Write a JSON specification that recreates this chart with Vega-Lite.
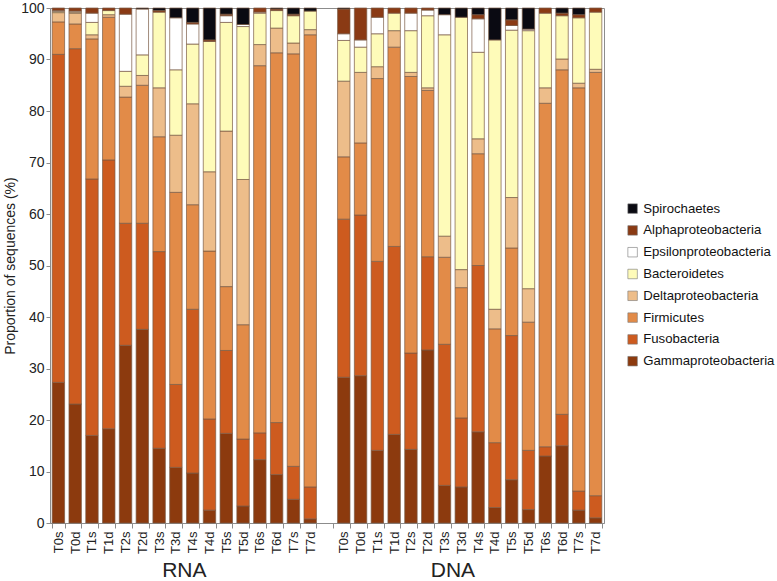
{
  "$schema": "https://vega.github.io/schema/vega-lite/v6.json",
  "width": 554,
  "height": 515,
  "autosize": {"type": "none"},
  "padding": {"left": 50, "top": 8, "right": 173, "bottom": 58},
  "background": "white",
  "config": {"font": "Liberation Sans", "view": {"stroke": "#8c8c8c", "strokeWidth": 1}},
  "layer": [
    {
      "data": {"values": [
        {"sample": "RNA T0s", "Gammaproteobacteria": 27.3, "Fusobacteria": 63.7, "Firmicutes": 6.3, "Deltaproteobacteria": 1.8, "Bacteroidetes": 0.2, "Epsilonproteobacteria": 0.2, "Alphaproteobacteria": 0.5, "Spirochaetes": 0},
        {"sample": "RNA T0d", "Gammaproteobacteria": 23.1, "Fusobacteria": 69.0, "Firmicutes": 4.8, "Deltaproteobacteria": 2.1, "Bacteroidetes": 0.2, "Epsilonproteobacteria": 0.2, "Alphaproteobacteria": 0.6, "Spirochaetes": 0},
        {"sample": "RNA T1s", "Gammaproteobacteria": 17.0, "Fusobacteria": 49.8, "Firmicutes": 27.2, "Deltaproteobacteria": 0.8, "Bacteroidetes": 2.4, "Epsilonproteobacteria": 1.8, "Alphaproteobacteria": 1.0, "Spirochaetes": 0},
        {"sample": "RNA T1d", "Gammaproteobacteria": 18.3, "Fusobacteria": 52.2, "Firmicutes": 27.7, "Deltaproteobacteria": 0.5, "Bacteroidetes": 0.8, "Epsilonproteobacteria": 0, "Alphaproteobacteria": 0.5, "Spirochaetes": 0},
        {"sample": "RNA T2s", "Gammaproteobacteria": 34.5, "Fusobacteria": 23.7, "Firmicutes": 24.5, "Deltaproteobacteria": 2.1, "Bacteroidetes": 2.9, "Epsilonproteobacteria": 11.1, "Alphaproteobacteria": 1.2, "Spirochaetes": 0},
        {"sample": "RNA T2d", "Gammaproteobacteria": 37.6, "Fusobacteria": 20.6, "Firmicutes": 26.8, "Deltaproteobacteria": 1.9, "Bacteroidetes": 4.0, "Epsilonproteobacteria": 8.9, "Alphaproteobacteria": 0, "Spirochaetes": 0.2},
        {"sample": "RNA T3s", "Gammaproteobacteria": 14.5, "Fusobacteria": 38.2, "Firmicutes": 22.3, "Deltaproteobacteria": 9.5, "Bacteroidetes": 14.7, "Epsilonproteobacteria": 0, "Alphaproteobacteria": 0.3, "Spirochaetes": 0.5},
        {"sample": "RNA T3d", "Gammaproteobacteria": 10.8, "Fusobacteria": 16.1, "Firmicutes": 37.3, "Deltaproteobacteria": 11.1, "Bacteroidetes": 12.7, "Epsilonproteobacteria": 10.1, "Alphaproteobacteria": 0, "Spirochaetes": 1.9},
        {"sample": "RNA T4s", "Gammaproteobacteria": 9.7, "Fusobacteria": 31.8, "Firmicutes": 20.3, "Deltaproteobacteria": 19.6, "Bacteroidetes": 11.6, "Epsilonproteobacteria": 3.9, "Alphaproteobacteria": 0.3, "Spirochaetes": 2.8},
        {"sample": "RNA T4d", "Gammaproteobacteria": 2.5, "Fusobacteria": 17.7, "Firmicutes": 32.6, "Deltaproteobacteria": 15.4, "Bacteroidetes": 25.3, "Epsilonproteobacteria": 0, "Alphaproteobacteria": 0.3, "Spirochaetes": 6.2},
        {"sample": "RNA T5s", "Gammaproteobacteria": 17.4, "Fusobacteria": 16.1, "Firmicutes": 12.4, "Deltaproteobacteria": 30.2, "Bacteroidetes": 21.1, "Epsilonproteobacteria": 1.3, "Alphaproteobacteria": 0.3, "Spirochaetes": 1.2},
        {"sample": "RNA T5d", "Gammaproteobacteria": 3.3, "Fusobacteria": 13.0, "Firmicutes": 22.2, "Deltaproteobacteria": 28.2, "Bacteroidetes": 29.7, "Epsilonproteobacteria": 0.4, "Alphaproteobacteria": 0, "Spirochaetes": 3.2},
        {"sample": "RNA T6s", "Gammaproteobacteria": 12.3, "Fusobacteria": 5.2, "Firmicutes": 71.3, "Deltaproteobacteria": 4.1, "Bacteroidetes": 6.1, "Epsilonproteobacteria": 0.2, "Alphaproteobacteria": 0.8, "Spirochaetes": 0},
        {"sample": "RNA T6d", "Gammaproteobacteria": 9.4, "Fusobacteria": 10.1, "Firmicutes": 71.8, "Deltaproteobacteria": 4.8, "Bacteroidetes": 3.4, "Epsilonproteobacteria": 0, "Alphaproteobacteria": 0.3, "Spirochaetes": 0.2},
        {"sample": "RNA T7s", "Gammaproteobacteria": 4.6, "Fusobacteria": 6.4, "Firmicutes": 80.1, "Deltaproteobacteria": 2.1, "Bacteroidetes": 5.3, "Epsilonproteobacteria": 0, "Alphaproteobacteria": 0.3, "Spirochaetes": 1.2},
        {"sample": "RNA T7d", "Gammaproteobacteria": 0.8, "Fusobacteria": 6.2, "Firmicutes": 87.8, "Deltaproteobacteria": 1.0, "Bacteroidetes": 3.6, "Epsilonproteobacteria": 0, "Alphaproteobacteria": 0, "Spirochaetes": 0.6},
        {"sample": "DNA T0s", "Gammaproteobacteria": 28.3, "Fusobacteria": 30.7, "Firmicutes": 12.1, "Deltaproteobacteria": 14.7, "Bacteroidetes": 7.9, "Epsilonproteobacteria": 1.3, "Alphaproteobacteria": 4.8, "Spirochaetes": 0.2},
        {"sample": "DNA T0d", "Gammaproteobacteria": 28.6, "Fusobacteria": 31.2, "Firmicutes": 14.0, "Deltaproteobacteria": 13.7, "Bacteroidetes": 4.9, "Epsilonproteobacteria": 1.4, "Alphaproteobacteria": 6.2, "Spirochaetes": 0},
        {"sample": "DNA T1s", "Gammaproteobacteria": 14.1, "Fusobacteria": 36.7, "Firmicutes": 35.5, "Deltaproteobacteria": 2.3, "Bacteroidetes": 6.4, "Epsilonproteobacteria": 3.2, "Alphaproteobacteria": 1.8, "Spirochaetes": 0},
        {"sample": "DNA T1d", "Gammaproteobacteria": 17.2, "Fusobacteria": 36.5, "Firmicutes": 38.7, "Deltaproteobacteria": 3.2, "Bacteroidetes": 3.4, "Epsilonproteobacteria": 0, "Alphaproteobacteria": 1.0, "Spirochaetes": 0},
        {"sample": "DNA T2s", "Gammaproteobacteria": 14.3, "Fusobacteria": 18.7, "Firmicutes": 53.7, "Deltaproteobacteria": 0.8, "Bacteroidetes": 8.1, "Epsilonproteobacteria": 3.4, "Alphaproteobacteria": 1.0, "Spirochaetes": 0},
        {"sample": "DNA T2d", "Gammaproteobacteria": 33.6, "Fusobacteria": 18.1, "Firmicutes": 32.3, "Deltaproteobacteria": 0.5, "Bacteroidetes": 14.0, "Epsilonproteobacteria": 1.1, "Alphaproteobacteria": 0.4, "Spirochaetes": 0},
        {"sample": "DNA T3s", "Gammaproteobacteria": 7.3, "Fusobacteria": 27.4, "Firmicutes": 16.9, "Deltaproteobacteria": 4.1, "Bacteroidetes": 39.1, "Epsilonproteobacteria": 3.9, "Alphaproteobacteria": 0, "Spirochaetes": 1.3},
        {"sample": "DNA T3d", "Gammaproteobacteria": 7.0, "Fusobacteria": 13.4, "Firmicutes": 25.3, "Deltaproteobacteria": 3.5, "Bacteroidetes": 49.0, "Epsilonproteobacteria": 0, "Alphaproteobacteria": 0, "Spirochaetes": 1.8},
        {"sample": "DNA T4s", "Gammaproteobacteria": 17.7, "Fusobacteria": 32.3, "Firmicutes": 21.7, "Deltaproteobacteria": 2.9, "Bacteroidetes": 16.8, "Epsilonproteobacteria": 6.5, "Alphaproteobacteria": 0.8, "Spirochaetes": 1.3},
        {"sample": "DNA T4d", "Gammaproteobacteria": 3.0, "Fusobacteria": 12.6, "Firmicutes": 22.1, "Deltaproteobacteria": 3.8, "Bacteroidetes": 52.3, "Epsilonproteobacteria": 0, "Alphaproteobacteria": 0, "Spirochaetes": 6.2},
        {"sample": "DNA T5s", "Gammaproteobacteria": 8.4, "Fusobacteria": 28.0, "Firmicutes": 17.0, "Deltaproteobacteria": 9.8, "Bacteroidetes": 32.5, "Epsilonproteobacteria": 0.9, "Alphaproteobacteria": 1.1, "Spirochaetes": 2.3},
        {"sample": "DNA T5d", "Gammaproteobacteria": 2.6, "Fusobacteria": 11.5, "Firmicutes": 24.9, "Deltaproteobacteria": 6.5, "Bacteroidetes": 50.1, "Epsilonproteobacteria": 0.3, "Alphaproteobacteria": 0, "Spirochaetes": 4.1},
        {"sample": "DNA T6s", "Gammaproteobacteria": 13.0, "Fusobacteria": 1.8, "Firmicutes": 66.7, "Deltaproteobacteria": 3.0, "Bacteroidetes": 14.5, "Epsilonproteobacteria": 0, "Alphaproteobacteria": 1.0, "Spirochaetes": 0},
        {"sample": "DNA T6d", "Gammaproteobacteria": 15.0, "Fusobacteria": 6.1, "Firmicutes": 66.9, "Deltaproteobacteria": 2.1, "Bacteroidetes": 8.4, "Epsilonproteobacteria": 0, "Alphaproteobacteria": 0.5, "Spirochaetes": 1.0},
        {"sample": "DNA T7s", "Gammaproteobacteria": 2.5, "Fusobacteria": 3.7, "Firmicutes": 78.3, "Deltaproteobacteria": 0.9, "Bacteroidetes": 12.7, "Epsilonproteobacteria": 0, "Alphaproteobacteria": 0.6, "Spirochaetes": 1.3},
        {"sample": "DNA T7d", "Gammaproteobacteria": 1.0, "Fusobacteria": 4.3, "Firmicutes": 82.2, "Deltaproteobacteria": 0.6, "Bacteroidetes": 11.1, "Epsilonproteobacteria": 0, "Alphaproteobacteria": 0.8, "Spirochaetes": 0}
      ]},
      "transform": [
        {"fold": ["Gammaproteobacteria", "Fusobacteria", "Firmicutes", "Deltaproteobacteria", "Bacteroidetes", "Epsilonproteobacteria", "Alphaproteobacteria", "Spirochaetes"], "as": ["taxon", "value"]},
        {"filter": "datum.value > 0"},
        {"calculate": "indexof(['Gammaproteobacteria', 'Fusobacteria', 'Firmicutes', 'Deltaproteobacteria', 'Bacteroidetes', 'Epsilonproteobacteria', 'Alphaproteobacteria', 'Spirochaetes'], datum.taxon)", "as": "stackRank"}
      ],
      "mark": {"type": "bar", "stroke": "#7a5a45", "strokeWidth": 0.7},
      "encoding": {
        "x": {
          "field": "sample", "type": "nominal", "title": null,
          "scale": {"domain": ["RNA T0s", "RNA T0d", "RNA T1s", "RNA T1d", "RNA T2s", "RNA T2d", "RNA T3s", "RNA T3d", "RNA T4s", "RNA T4d", "RNA T5s", "RNA T5d", "RNA T6s", "RNA T6d", "RNA T7s", "RNA T7d", "gap", "DNA T0s", "DNA T0d", "DNA T1s", "DNA T1d", "DNA T2s", "DNA T2d", "DNA T3s", "DNA T3d", "DNA T4s", "DNA T4d", "DNA T5s", "DNA T5d", "DNA T6s", "DNA T6d", "DNA T7s", "DNA T7d"], "paddingInner": 0.26, "paddingOuter": 0.13},
          "axis": {"labelAngle": -90, "labelFontSize": 13, "labelColor": "#222", "labelExpr": "test(/^(RNA|DNA) T/, '' + datum.value) ? substring(datum.value, 4) : ''", "tickBand": "extent", "tickSize": 5, "tickColor": "#8c8c8c", "domainColor": "#8c8c8c", "grid": false, "labelPadding": 3}
        },
        "y": {
          "field": "value", "type": "quantitative", "stack": "zero",
          "scale": {"domain": [0, 100], "nice": false},
          "axis": {"title": "Proportion of sequences (%)", "titleFontSize": 14, "titleFontWeight": "normal", "titleColor": "#222", "titlePadding": 3, "labelFontSize": 14, "labelColor": "#222", "values": [0, 10, 20, 30, 40, 50, 60, 70, 80, 90, 100], "grid": false, "domainColor": "#8c8c8c", "tickColor": "#8c8c8c", "tickSize": 4, "labelPadding": 2}
        },
        "color": {
          "field": "taxon", "type": "nominal",
          "scale": {"domain": ["Spirochaetes", "Alphaproteobacteria", "Epsilonproteobacteria", "Bacteroidetes", "Deltaproteobacteria", "Firmicutes", "Fusobacteria", "Gammaproteobacteria"], "range": ["#0a0a12", "#8a3a14", "#ffffff", "#fefbb9", "#edbd8a", "#e28b48", "#cd5b1f", "#8c3a0e"]},
          "legend": {"orient": "none", "legendX": 576, "legendY": 194, "title": null, "labelFontSize": 13.2, "labelColor": "#111", "symbolType": "square", "symbolSize": 90, "symbolStrokeColor": "#777", "symbolStrokeWidth": 0.6, "rowPadding": 7.8, "labelOffset": 4}
        },
        "order": {"field": "stackRank", "type": "quantitative", "sort": "ascending"}
      }
    },
    {
      "data": {"values": [{"group": "RNA", "pos": "RNA T4s"}, {"group": "DNA", "pos": "DNA T3d"}]},
      "mark": {"type": "text", "fontSize": 21, "baseline": "middle", "align": "center", "color": "#222", "dx": -8.4},
      "encoding": {
        "x": {"field": "pos", "type": "nominal", "title": null},
        "y": {"datum": -9.4, "type": "quantitative"},
        "text": {"field": "group"}
      }
    }
  ]
}
